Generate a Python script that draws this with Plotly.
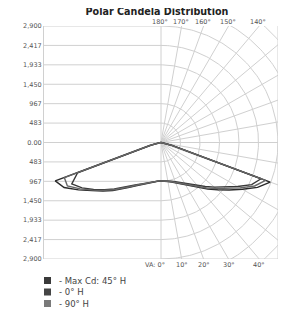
import math
import plotly.graph_objects as go

# ---------------- data ----------------
angles = [0, 5, 10, 15, 20, 25, 30, 35, 40, 45, 50, 55, 60, 65, 70, 75, 80, 85, 90]

max45_right = [960, 965, 985, 1020, 1070, 1140, 1220, 1330, 1470, 1640, 1830, 2060, 2330, 2640, 2880, 300, 40, 0, 0]
max45_left = [960, 968, 992, 1030, 1085, 1155, 1245, 1365, 1510, 1690, 1880, 2090, 2360, 2650, 2790, 290, 35, 0, 0]
h0_right = [960, 962, 975, 1000, 1040, 1100, 1175, 1275, 1400, 1550, 1730, 1940, 2190, 2480, 2640, 260, 30, 0, 0]
h0_left = [960, 965, 985, 1020, 1070, 1135, 1215, 1325, 1465, 1635, 1825, 2040, 2260, 2440, 2200, 230, 25, 0, 0]
h90_right = [960, 963, 980, 1012, 1058, 1120, 1198, 1305, 1440, 1600, 1785, 2000, 2260, 2560, 2760, 280, 35, 0, 0]
h90_left = [960, 966, 988, 1025, 1078, 1145, 1230, 1345, 1490, 1665, 1855, 2065, 2310, 2560, 2550, 260, 30, 0, 0]

series_names = ["- Max Cd: 45° H", "- 0° H", "- 90° H"]
series_colors = ["#2a2a2a", "#383838", "#666666"]
legend_square_colors = ["#3a3a3a", "#454545", "#7a7a7a"]

max_cd = 2900
ytick_vals = [2900, 2416.67, 1933.33, 1450, 966.67, 483.33, 0,
              -483.33, -966.67, -1450, -1933.33, -2416.67, -2900]
ytick_text = ["2,900", "2,417", "1,933", "1,450", "967", "483", "0.00",
              "483", "967", "1,450", "1,933", "2,417", "2,900"]
top_angle_labels = [180, 170, 160, 150, 140]
bottom_angle_labels = [0, 10, 20, 30, 40]
right_angle_labels = [130, 120, 110, 100, 90, 80, 70, 60, 50]

title = "Polar Candela Distribution"

GRID = "#d0d0d0"
TXT = "#555555"
FONT = "DejaVu Sans"

# page body has an 8px margin: lay out in figure coordinates shifted by it
OFF = 8
W, H = 289 - OFF, 309 - OFF
ML, MT = 44 - OFF, 26 - OFF
PW, PH = 234, 233
MR = W - ML - PW
MB = H - MT - PH

fig = go.Figure()

# ---------------- grid (right half: polar) ----------------
n_rings = 8
step = max_cd / 6
for k in range(1, n_rings + 1):
    r = k * step
    ts = [i * 1.0 for i in range(0, 181)]
    fig.add_trace(go.Scatter(
        x=[r * math.sin(math.radians(t)) for t in ts],
        y=[-r * math.cos(math.radians(t)) for t in ts],
        mode="lines", line=dict(color=GRID, width=1),
        hoverinfo="skip", showlegend=False))
L = max_cd * 3
for t in range(0, 181, 10):
    fig.add_trace(go.Scatter(
        x=[0, L * math.sin(math.radians(t))],
        y=[0, -L * math.cos(math.radians(t))],
        mode="lines", line=dict(color=GRID, width=1),
        hoverinfo="skip", showlegend=False))

# ---------------- grid (left half: horizontal lines) ----------------
shapes = []
for v in ytick_vals:
    shapes.append(dict(type="line", xref="x", yref="y", x0=-max_cd, x1=0, y0=v, y1=v,
                       line=dict(color=GRID, width=1), layer="below"))
shapes.append(dict(type="line", xref="x", yref="y", x0=0, x1=max_cd, y0=-max_cd, y1=-max_cd,
                   line=dict(color=GRID, width=1), layer="below"))
shapes.append(dict(type="line", xref="x", yref="y", x0=max_cd, x1=max_cd, y0=-max_cd, y1=max_cd,
                   line=dict(color=GRID, width=1), layer="below"))

# ---------------- candela curves ----------------
pairs = [(max45_left, max45_right), (h0_left, h0_right), (h90_left, h90_right)]
for (left, right), name, col in zip(pairs, series_names, series_colors):
    xs, ys = [], []
    for a, v in reversed(list(zip(angles, left))):
        xs.append(-v * math.sin(math.radians(a)))
        ys.append(-v * math.cos(math.radians(a)))
    for a, v in zip(angles, right):
        xs.append(v * math.sin(math.radians(a)))
        ys.append(-v * math.cos(math.radians(a)))
    fig.add_trace(go.Scatter(x=xs, y=ys, mode="lines", name=name,
                             line=dict(color=col, width=1.4),
                             showlegend=False))

# ---------------- angle labels ----------------
ann = []
for t in top_angle_labels:
    ann.append(dict(x=max_cd * math.tan(math.radians(180 - t)), y=max_cd, xref="x", yref="y",
                    text=f"{t}°", showarrow=False, yanchor="bottom", xanchor="center",
                    xshift=-1, yshift=-1.5, font=dict(family=FONT, size=6.5, color=TXT)))
for t in bottom_angle_labels:
    txt = f"VA: {t}°" if t == 0 else f"{t}°"
    ann.append(dict(x=max_cd * math.tan(math.radians(t)), y=-max_cd, xref="x", yref="y",
                    text=txt, showarrow=False, yanchor="top",
                    xanchor="right" if t == 0 else "center",
                    xshift=6 if t == 0 else 0, yshift=0,
                    font=dict(family=FONT, size=6.5, color=TXT)))
for t in right_angle_labels:
    yv = 0 if t == 90 else -max_cd / math.tan(math.radians(t))
    ann.append(dict(x=1, y=yv, xref="paper", yref="y", text=f"{t}°", showarrow=False,
                    xanchor="left", yanchor="middle", xshift=1,
                    font=dict(family=FONT, size=6.5, color=TXT)))

# ---------------- legend (manual, page pixel positions) ----------------
row_y = [280.5, 292, 303.5]
for name, col, py in zip(series_names, legend_square_colors, row_y):
    fy = py - OFF
    shapes.append(dict(type="rect", xref="paper", yref="paper",
                       x0=(44 - OFF - ML) / PW, x1=(51 - OFF - ML) / PW,
                       y0=(H - MB - (fy + 3.5)) / PH, y1=(H - MB - (fy - 3.5)) / PH,
                       fillcolor=col, line=dict(width=0)))
    ann.append(dict(x=(57 - OFF - ML) / PW, y=(H - MB - fy) / PH, xref="paper", yref="paper",
                    text=name, showarrow=False, xanchor="left", yanchor="middle",
                    font=dict(family=FONT, size=8.5, color="#444444")))

fig.update_layout(
    width=W, height=H,
    margin=dict(l=ML, r=MR, t=MT, b=MB, autoexpand=False),
    paper_bgcolor="white", plot_bgcolor="white",
    title=dict(text=f"<b>{title}</b>", x=(157 - OFF) / W, xanchor="center",
               y=1 - (11.5 - OFF) / H, yanchor="middle", yref="container",
               font=dict(family=FONT, size=9.6, color="#222222")),
    xaxis=dict(range=[-max_cd, max_cd], showgrid=False, zeroline=False, automargin=False,
               showticklabels=False, ticks="", showline=False, fixedrange=True),
    yaxis=dict(range=[-max_cd, max_cd], showgrid=False, zeroline=False, automargin=False,
               tickvals=ytick_vals, ticktext=ytick_text, ticks="",
               tickfont=dict(family=FONT, size=6.5, color=TXT),
               showline=True, linecolor=GRID, linewidth=1, fixedrange=True),
    shapes=shapes, annotations=ann,
    showlegend=False,
)

fig.write_html("out.html")
